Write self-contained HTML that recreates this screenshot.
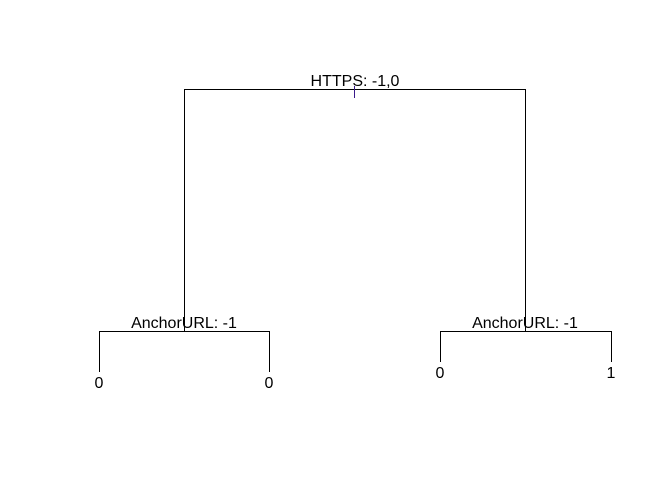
<!DOCTYPE html>
<html><head><style>body{margin:0;background:#fff}</style></head><body>
<svg width="672" height="480" xmlns="http://www.w3.org/2000/svg" style="display:block">
<rect width="672" height="480" fill="#fff"/>
<g stroke="#000" stroke-width="1" fill="none">
<polyline points="184.5,331 184.5,89.5 525.5,89.5 525.5,331"/>
<polyline points="99.5,372 99.5,331.5 269.5,331.5 269.5,372"/>
<polyline points="440.5,362 440.5,331.5 611.5,331.5 611.5,362"/>
</g>
<line x1="354.5" y1="86" x2="354.5" y2="98" stroke="#3a1a8a" stroke-width="1"/>
<g font-family="Liberation Sans, sans-serif" font-size="16" fill="#000" text-anchor="middle">
<text x="355" y="86">HTTPS: -1,0</text>
<text x="184" y="328">AnchorURL: -1</text>
<text x="525" y="328">AnchorURL: -1</text>
<text x="99" y="388">0</text>
<text x="269" y="388">0</text>
<text x="440" y="378">0</text>
<text x="611" y="378">1</text>
</g>
</svg>
</body></html>
